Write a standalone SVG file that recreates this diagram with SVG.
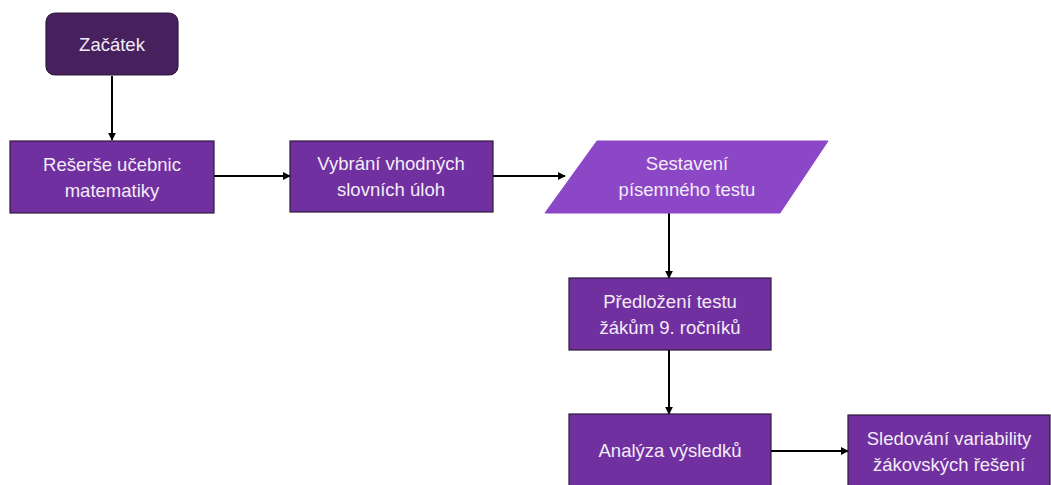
<svg xmlns="http://www.w3.org/2000/svg" width="1051" height="485" viewBox="0 0 1051 485">
<defs>
<style>
.box{fill:#7030a0;stroke:#2e1a3a;stroke-width:1.2}
.start{fill:#47205e;stroke:#2e1a3a;stroke-width:1.2}
.io{fill:#8c47c7;stroke:#8c47c7;stroke-width:1}
.t{font-family:"Liberation Sans",Arial,sans-serif;font-size:18.5px;fill:#f3ecf7;text-anchor:middle}
.c{stroke:#000;stroke-width:2;fill:none;marker-end:url(#ah)}
</style>
<marker id="ah" viewBox="0 0 10 10" refX="9" refY="5" markerWidth="4" markerHeight="4" orient="auto">
<path d="M0,0 L10,5 L0,10 z" fill="#000"/>
</marker>
</defs>
<rect width="1051" height="485" fill="#fff"/>
<g id="connectors">
<path class="c" d="M112,76 V140"/>
<path class="c" d="M214,176 H290"/>
<path class="c" d="M493,176 H565"/>
<path class="c" d="M669,213 V278"/>
<path class="c" d="M669,350 V414"/>
<path class="c" d="M771,451 H848"/>
</g>
<g id="n-start">
<rect class="start" x="46" y="13" width="132" height="62" rx="9"/>
<text class="t" x="112" y="51">Začátek</text>
</g>
<g id="n-reserse">
<rect class="box" x="10" y="141" width="204" height="72"/>
<text class="t" x="112" y="171">Rešerše učebnic</text>
<text class="t" x="112" y="197">matematiky</text>
</g>
<g id="n-vybrani">
<rect class="box" x="290" y="141" width="203" height="71"/>
<text class="t" x="391" y="170">Vybrání vhodných</text>
<text class="t" x="391" y="196">slovních úloh</text>
</g>
<g id="n-sestaveni">
<polygon class="io" points="597,141 828,141 780,213 545,213"/>
<text class="t" x="687" y="170">Sestavení</text>
<text class="t" x="687" y="196">písemného testu</text>
</g>
<g id="n-predlozeni">
<rect class="box" x="569" y="278" width="202" height="72"/>
<text class="t" x="670" y="308">Předložení testu</text>
<text class="t" x="670" y="334">žákům 9. ročníků</text>
</g>
<g id="n-analyza">
<rect class="box" x="569" y="414" width="202" height="80"/>
<text class="t" x="670" y="457">Analýza výsledků</text>
</g>
<g id="n-sledovani">
<rect class="box" x="848" y="415" width="202" height="80"/>
<text class="t" x="949" y="445">Sledování variability</text>
<text class="t" x="949" y="471">žákovských řešení</text>
</g>
</svg>
